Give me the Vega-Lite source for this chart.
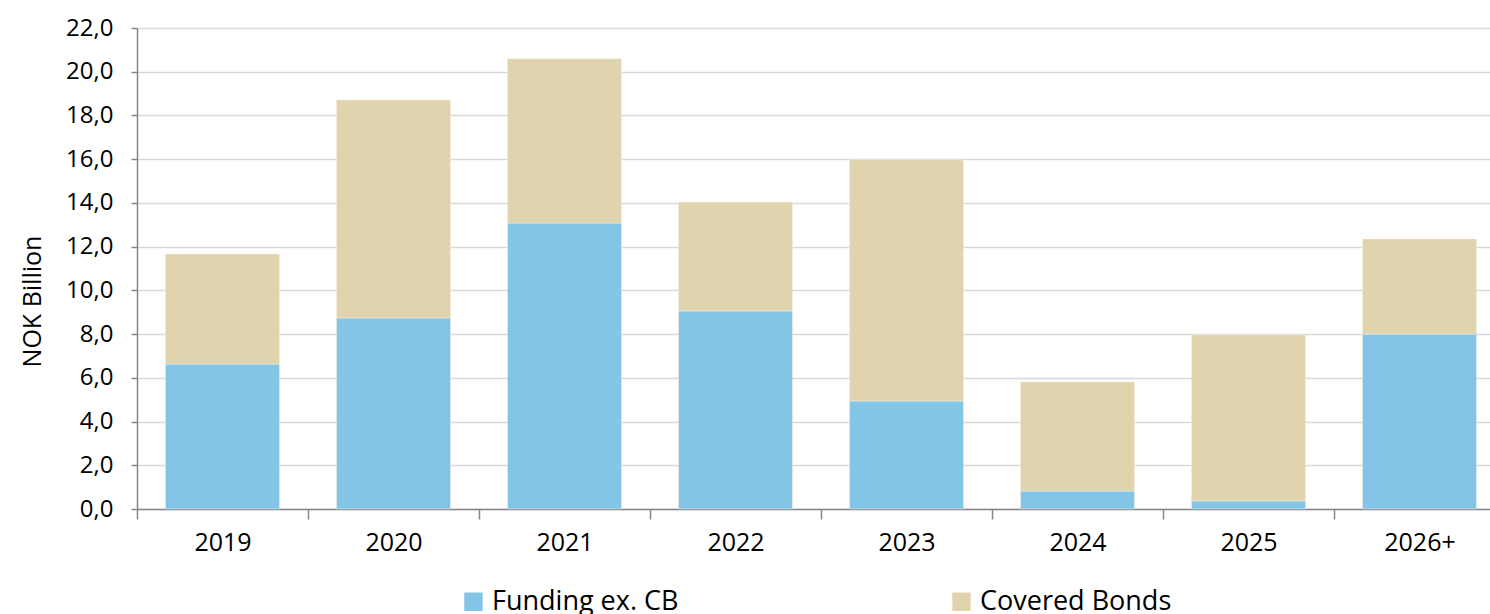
{
  "$schema": "https://vega.github.io/schema/vega-lite/v6.json",
  "autosize": {"type": "none"},
  "width": 1368,
  "height": 481,
  "padding": {"left": 137, "top": 28, "right": 0, "bottom": 105},
  "background": "white",
  "config": {
    "font": "Open Sans",
    "view": {"stroke": null},
    "axis": {"labelFont": "Open Sans", "titleFont": "Open Sans", "labelColor": "#000000", "titleColor": "#000000"},
    "legend": {"labelFont": "Open Sans", "labelColor": "#000000"}
  },
  "data": {
    "values": [
      {"year": "2019", "series": "Funding ex. CB", "value": 6.63},
      {"year": "2019", "series": "Covered  Bonds", "value": 5.03},
      {"year": "2020", "series": "Funding ex. CB", "value": 8.74},
      {"year": "2020", "series": "Covered  Bonds", "value": 9.97},
      {"year": "2021", "series": "Funding ex. CB", "value": 13.08},
      {"year": "2021", "series": "Covered  Bonds", "value": 7.51},
      {"year": "2022", "series": "Funding ex. CB", "value": 9.06},
      {"year": "2022", "series": "Covered  Bonds", "value": 4.98},
      {"year": "2023", "series": "Funding ex. CB", "value": 4.94},
      {"year": "2023", "series": "Covered  Bonds", "value": 11.03},
      {"year": "2024", "series": "Funding ex. CB", "value": 0.82},
      {"year": "2024", "series": "Covered  Bonds", "value": 4.99},
      {"year": "2025", "series": "Funding ex. CB", "value": 0.37},
      {"year": "2025", "series": "Covered  Bonds", "value": 7.59},
      {"year": "2026+", "series": "Funding ex. CB", "value": 8.0},
      {"year": "2026+", "series": "Covered  Bonds", "value": 4.35}
    ]
  },
  "mark": {"type": "bar", "stroke": "#F4F0E4", "strokeWidth": 0.5},
  "encoding": {
    "x": {
      "field": "year", "type": "nominal", "sort": null,
      "scale": {"paddingInner": 0.333, "paddingOuter": 0.1665},
      "axis": {
        "title": null, "labelAngle": 0, "labelFontSize": 25, "labelPadding": 11,
        "tickOffset": -85.5, "labelOffset": 85.5, "tickSize": 10, "tickColor": "#868686", "tickWidth": 1.5,
        "domainColor": "#868686", "domainWidth": 1.5, "grid": false
      }
    },
    "y": {
      "field": "value", "type": "quantitative", "stack": "zero",
      "scale": {"domain": [0, 22], "nice": false},
      "axis": {
        "title": "NOK Billion", "titleFontSize": 25, "titleFontWeight": "normal", "titlePadding": 20,
        "titleY": 273,
        "values": [0, 2, 4, 6, 8, 10, 12, 14, 16, 18, 20, 22],
        "labelExpr": "replace(format(datum.value, '.1f'), '.', ',')",
        "labelFontSize": 24, "labelPadding": 18, "tickSize": 6, "tickColor": "#868686", "tickWidth": 1.5,
        "domainColor": "#868686", "domainWidth": 1.5,
        "grid": true, "gridColor": "#D9D9D9", "gridWidth": 1.5
      }
    },
    "color": {
      "field": "series", "type": "nominal",
      "scale": {"domain": ["Funding ex. CB", "Covered  Bonds"], "range": ["#82C5E7", "#E0D4AE"]},
      "legend": {
        "title": null, "orient": "none", "legendX": 323, "legendY": 560, "direction": "horizontal",
        "columns": 2, "columnPadding": 269, "symbolType": "square", "symbolSize": 340,
        "symbolStrokeWidth": 0, "labelFontSize": 27, "labelOffset": 5, "labelLimit": 400
      }
    },
    "order": {"field": "series", "sort": "descending"}
  }
}
